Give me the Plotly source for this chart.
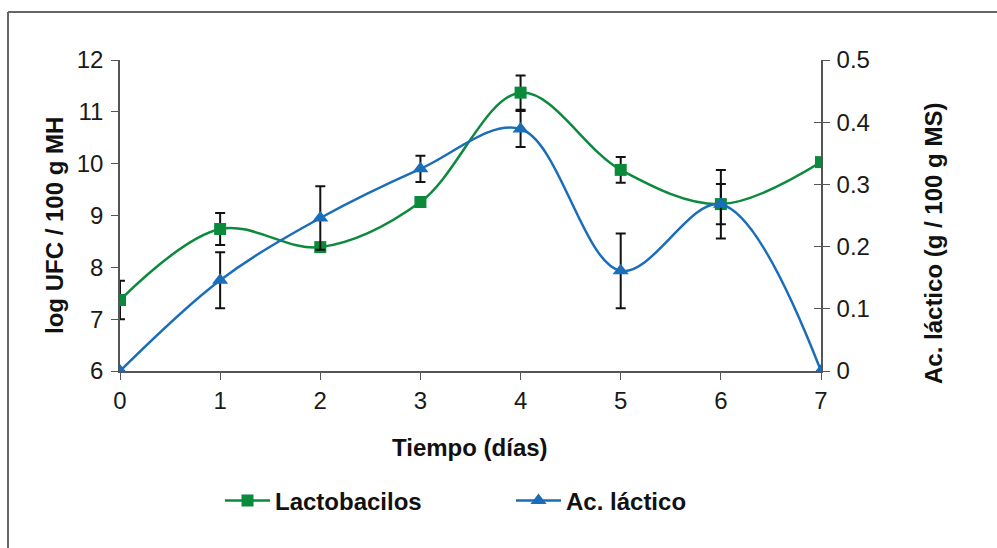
import plotly.graph_objects as go

dias = [0, 1, 2, 3, 4, 5, 6, 7]
lacto = [7.37, 8.74, 8.39, 9.26, 11.37, 9.88, 9.22, 10.03]
lacto_err = [0.37, 0.31, 0.03, 0.0, 0.33, 0.25, 0.39, 0.0]
acido = [0.0, 0.146, 0.246, 0.325, 0.389, 0.161, 0.268, 0.0]
acido_err = [0.0, 0.045, 0.051, 0.021, 0.029, 0.060, 0.055, 0.0]

x_ticks = [0, 1, 2, 3, 4, 5, 6, 7]
y1_ticks = [6, 7, 8, 9, 10, 11, 12]
y2_ticks = [0, 0.1, 0.2, 0.3, 0.4, 0.5]
y2_labels = ["0", "0.1", "0.2", "0.3", "0.4", "0.5"]

GREEN = "#0B8A3C"
BLUE = "#1A6DB9"
AXC = "#555555"
FONT = "Liberation Sans, Arial, sans-serif"

fig = go.Figure()
fig.add_trace(go.Scatter(
    x=dias, y=lacto, name="<b>Lactobacilos</b>", mode="lines+markers",
    line=dict(color=GREEN, width=2.5, shape="spline", smoothing=1.0),
    marker=dict(symbol="square", size=12, color=GREEN),
    error_y=dict(type="data", array=lacto_err, color="#111111", thickness=2, width=5),
    yaxis="y"))
fig.add_trace(go.Scatter(
    x=dias, y=acido, name="<b>Ac. láctico</b>", mode="lines+markers",
    line=dict(color=BLUE, width=2.5, shape="spline", smoothing=1.0),
    marker=dict(symbol="triangle-up", size=14, color=BLUE),
    error_y=dict(type="data", array=acido_err, color="#111111", thickness=2, width=5),
    yaxis="y2"))

W, H = 997, 548
L, R, T, B = 120, 821, 60, 371
pw, ph = R - L, B - T

def px2x(p):
    return (p - L) / pw

def py2y(p):
    return (B - p) / ph

tickfont = dict(family=FONT, size=24, color="#1a1a1a")
fig.update_layout(
    width=W, height=H,
    margin=dict(l=L, r=W - R, t=T, b=H - B),
    paper_bgcolor="white", plot_bgcolor="white",
    font=dict(family=FONT, color="#111111"),
    showlegend=True,
    legend=dict(orientation="h", x=px2x(220), y=py2y(501), xanchor="left", yanchor="middle",
                font=dict(family=FONT, size=24, color="#111111"),
                itemwidth=45, entrywidth=231, traceorder="normal"),
    xaxis=dict(range=[0, 7], tickvals=x_ticks, showgrid=False, zeroline=False,
               showline=True, linecolor=AXC, linewidth=1.5, ticks="outside", ticklen=7,
               tickcolor=AXC, tickfont=tickfont, fixedrange=True),
    yaxis=dict(range=[6, 12], tickvals=y1_ticks, showgrid=False, zeroline=False,
               showline=True, linecolor=AXC, linewidth=1.5, ticks="outside", ticklen=7,
               tickcolor=AXC, tickfont=tickfont, ticklabelstandoff=3),
    yaxis2=dict(range=[0, 0.5], tickvals=y2_ticks, ticktext=y2_labels, overlaying="y",
                side="right", anchor="x", showgrid=False, zeroline=False,
                showline=True, linecolor=AXC, linewidth=1.5, ticks="outside", ticklen=7,
                tickcolor=AXC, tickfont=tickfont, ticklabelstandoff=2),
    yaxis3=dict(range=[0, 0.5], tickvals=y2_ticks, overlaying="y", side="right", anchor="x",
                showgrid=False, zeroline=False, showline=False, ticks="inside", ticklen=7,
                tickcolor=AXC, showticklabels=False),
)

titlefont = dict(family=FONT, size=24, color="#111111")
fig.add_annotation(text="<b>Tiempo (días)</b>", xref="paper", yref="paper",
                   x=px2x(470), y=py2y(447), xanchor="center", yanchor="middle",
                   showarrow=False, font=titlefont)
fig.add_annotation(text="<b>log UFC / 100 g MH</b>", xref="paper", yref="paper",
                   x=px2x(54), y=py2y(226), xanchor="center", yanchor="middle",
                   showarrow=False, textangle=-90, font=titlefont)
fig.add_annotation(text="<b>Ac. láctico (g / 100 g MS)</b>", xref="paper", yref="paper",
                   x=px2x(933), y=py2y(244), xanchor="center", yanchor="middle",
                   showarrow=False, textangle=-90, font=titlefont)

# outer frame of the chart area
fig.add_shape(type="line", xref="paper", yref="paper", x0=px2x(8), y0=py2y(12),
              x1=px2x(1000), y1=py2y(12), line=dict(color="#666666", width=2))
fig.add_shape(type="line", xref="paper", yref="paper", x0=px2x(8), y0=py2y(12),
              x1=px2x(8), y1=py2y(560), line=dict(color="#666666", width=2))

# dummy (invisible) trace so the crossing-tick axis is drawn
fig.add_trace(go.Scatter(x=[0], y=[0], yaxis="y3", mode="markers",
                         marker=dict(opacity=0), showlegend=False, hoverinfo="skip"))

fig.write_html("out.html")
